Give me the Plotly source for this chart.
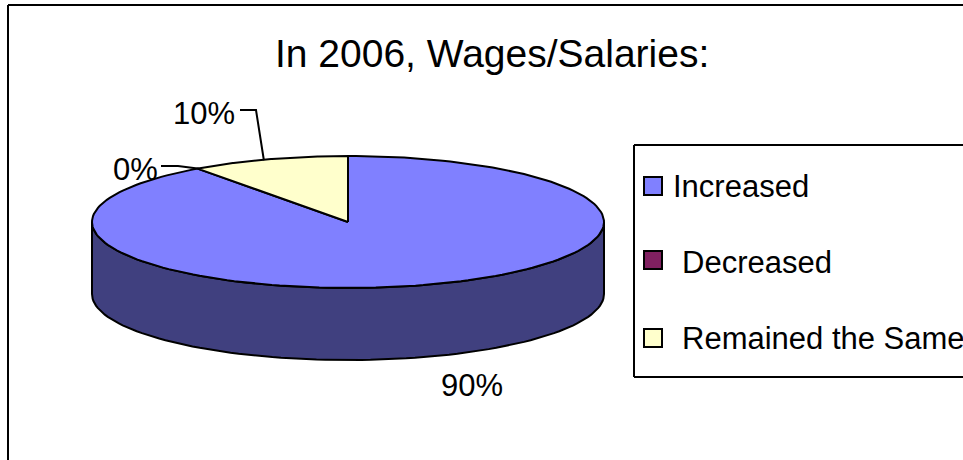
import numpy as np
import plotly.graph_objects as go

labels = ["Increased", "Decreased", "Remained the Same"]
legend_texts = ["Increased", " Decreased", " Remained the Same"]
values = [90, 0, 10]
top_colors = ["#8080FF", "#802060", "#FFFFCC"]
side_colors = ["#40407F", "#401030", "#7F7F66"]
title_text = "In 2006, Wages/Salaries:"

W, H = 963, 460
CX, CY, RX, RY, DEPTH = 348, 222, 256, 66, 72
FONT = "Liberation Sans, Arial, sans-serif"
LW = 2


def pt(deg, dy=0):
    a = np.radians(deg)
    return CX + RX * np.sin(a), CY - RY * np.cos(a) + dy


fig = go.Figure()


def poly(xs, ys, fill):
    fig.add_trace(go.Scatter(x=xs, y=ys, mode="lines", fill="toself", fillcolor=fill,
                             line=dict(color="black", width=LW), hoverinfo="skip",
                             showlegend=False))


total = sum(values)
edges = np.cumsum([0] + values) / total * 360

# side wall (front half of each slice)
for i in range(len(values)):
    s, e = max(edges[i], 90), min(edges[i + 1], 270)
    if e > s:
        t = np.linspace(s, e, 90)
        xa, ya = pt(t)
        xb, yb = pt(t[::-1], DEPTH)
        poly(list(xa) + list(xb) + [xa[0]], list(ya) + list(yb) + [ya[0]], side_colors[i])

# top face
for i in range(len(values)):
    s, e = edges[i], edges[i + 1]
    if e > s:
        t = np.linspace(s, e, 180)
        xa, ya = pt(t)
        poly([CX] + list(xa) + [CX], [CY] + list(ya) + [CY], top_colors[i])

# leader lines anchored on the slice mid-angle
mid = (edges[:-1] + edges[1:]) / 2
ax10, ay10 = pt(mid[2])
ax0, ay0 = pt(mid[1])
for xs, ys in [([240, 256, ax10 - 5], [110, 110, ay10 + 1]),
               ([161, 178, ax0], [166, 166, ay0])]:
    fig.add_trace(go.Scatter(x=xs, y=ys, mode="lines", line=dict(color="black", width=LW),
                             hoverinfo="skip", showlegend=False))

# legend swatches
swatch_y = [186, 260, 338]
fig.add_trace(go.Scatter(x=[653] * 3, y=swatch_y, mode="markers", hoverinfo="skip", showlegend=False,
                         marker=dict(symbol="square", size=18, color=top_colors,
                                     line=dict(color="black", width=2))))

ann = [
    dict(x=492, y=53, text=title_text, size=39, anchor="center"),
    dict(x=204, y=113, text=f"{values[2]}%", size=31, anchor="center"),
    dict(x=135, y=169, text=f"{values[1]}%", size=31, anchor="center"),
    dict(x=472, y=385, text=f"{values[0]}%", size=31, anchor="center"),
    dict(x=671, y=186, text=legend_texts[0], size=31, anchor="left"),
    dict(x=680, y=262, text=legend_texts[1].strip(), size=31, anchor="left"),
    dict(x=680, y=338, text=legend_texts[2].strip(), size=31, anchor="left"),
]

line = dict(color="black", width=2)
fig.update_layout(
    width=W, height=H, autosize=False,
    margin=dict(l=0, r=0, t=0, b=0),
    paper_bgcolor="white", plot_bgcolor="white",
    xaxis=dict(range=[0, W], visible=False, fixedrange=True),
    yaxis=dict(range=[H, 0], visible=False, fixedrange=True),
    showlegend=False,
    shapes=[
        dict(type="line", x0=8, x1=8, y0=5, y1=H, line=line),
        dict(type="line", x0=8, x1=W, y0=5, y1=5, line=line),
        dict(type="line", x0=634, x1=634, y0=145, y1=377, line=line),
        dict(type="line", x0=634, x1=W, y0=145, y1=145, line=line),
        dict(type="line", x0=634, x1=W, y0=377, y1=377, line=line),
    ],
    annotations=[
        dict(x=a["x"], y=a["y"], xref="x", yref="y", text=a["text"], showarrow=False,
             xanchor=a["anchor"], yanchor="middle", font=dict(family=FONT, size=a["size"], color="black"))
        for a in ann
    ],
)

fig.write_html("out.html", config=dict(displayModeBar=False),
               post_script="document.body.style.margin='0';document.body.style.overflow='hidden';")
